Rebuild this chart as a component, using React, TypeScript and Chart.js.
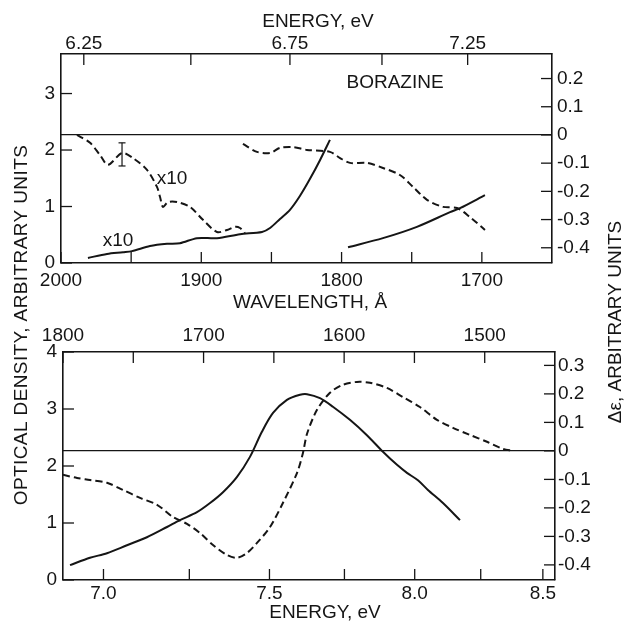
import React, { useEffect, useRef } from 'react';
import { Chart, registerables } from 'chart.js';

Chart.register(...registerables);

const HC = 12398.42; // eV * Å

// ---------- upper panel (x = wavelength, Å) ----------
const topOdLowWl = [1980.8, 1967.2, 1955.8, 1949.4, 1936.6, 1924.4, 1915.2, 1903.1, 1888.8, 1872.4, 1856.7, 1851.0, 1843.9, 1836.8, 1829.6, 1822.5, 1815.4, 1808.3];
const topOdLowVal = [0.09, 0.16, 0.19, 0.21, 0.30, 0.34, 0.35, 0.44, 0.44, 0.51, 0.55, 0.62, 0.78, 0.94, 1.19, 1.49, 1.82, 2.18];

const topOdHighWl = [1795.4, 1770.5, 1746.3, 1722.7, 1715.6, 1697.8];
const topOdHighVal = [0.28, 0.44, 0.64, 0.90, 0.97, 1.20];

const topCdLowWl = [1988.6, 1979.3, 1972.2, 1966.5, 1956.5, 1948.7, 1938.7, 1931.6, 1929.4, 1927.3, 1923.7, 1917.3, 1908.1, 1898.8, 1888.8, 1881.7, 1876.0, 1872.4, 1868.9];
const topCdLowVal = [0.0, -0.028, -0.071, -0.106, -0.064, -0.082, -0.124, -0.184, -0.22, -0.255, -0.238, -0.238, -0.255, -0.301, -0.344, -0.337, -0.326, -0.33, -0.348];

const topCdHighWl = [1870.3, 1860.3, 1851.0, 1843.9, 1834.6, 1824.7, 1808.3, 1801.1, 1794.0, 1781.9, 1770.5, 1758.4, 1749.1, 1739.1, 1727.7, 1717.7, 1708.5, 1697.8];
const topCdHighVal = [-0.032, -0.06, -0.064, -0.046, -0.043, -0.053, -0.06, -0.082, -0.099, -0.099, -0.117, -0.142, -0.184, -0.23, -0.255, -0.259, -0.291, -0.337];

const errBarWl = [1956.5, 1956.5];
const errBarVal = [-0.028, -0.11];

// ---------- lower panel (x = wavelength, Å) ----------
const botOdWl = [1795.0, 1780.8, 1768.7, 1754.5, 1740.3, 1726.0, 1716.8, 1704.7, 1695.4, 1686.2, 1676.2, 1667.0, 1658.5, 1650.6, 1640.7, 1631.4, 1626.4, 1617.2, 1608.0, 1595.9, 1583.8, 1572.4, 1562.4, 1555.3, 1547.5, 1540.4, 1529.7, 1517.6];
const botOdVal = [0.26, 0.39, 0.47, 0.61, 0.75, 0.93, 1.05, 1.19, 1.35, 1.54, 1.81, 2.16, 2.6, 2.93, 3.16, 3.25, 3.26, 3.19, 3.04, 2.81, 2.54, 2.25, 2.02, 1.88, 1.75, 1.58, 1.35, 1.05];

const botCdWl = [1800.0, 1790.0, 1780.8, 1768.7, 1757.3, 1745.2, 1733.1, 1721.8, 1711.8, 1702.6, 1693.3, 1683.4, 1676.2, 1669.1, 1662.0, 1652.7, 1643.5, 1633.5, 1629.3, 1626.4, 1619.3, 1610.1, 1600.9, 1590.9, 1581.7, 1569.6, 1558.2, 1546.1, 1534.0, 1522.6, 1510.5, 1498.4, 1487.0, 1479.9];
const botCdVal = [-0.084, -0.095, -0.102, -0.112, -0.137, -0.165, -0.189, -0.232, -0.256, -0.288, -0.33, -0.365, -0.375, -0.358, -0.323, -0.267, -0.182, -0.077, -0.007, 0.06, 0.144, 0.204, 0.232, 0.242, 0.239, 0.221, 0.189, 0.154, 0.109, 0.081, 0.056, 0.032, 0.007, 0.0];

// ---------- ticks ----------
const topWlTicks = [2000, 1950, 1900, 1850, 1800, 1750, 1700];
const topWlLabels = ['2000', '1900', '1800', '1700'];
const topEnergyTicks = [6.25, 6.5, 6.75, 7.0, 7.25];
const topEnergyLabels = ['6.25', '6.75', '7.25'];
const topOdTicks = [0, 1, 2, 3];
const topOdLabels = ['0', '1', '2', '3'];
const topCdTicks = [0.2, 0.1, 0, -0.1, -0.2, -0.3, -0.4];
const topCdLabels = ['0.2', '0.1', '0', '-0.1', '-0.2', '-0.3', '-0.4'];

const botWlTicks = [1800, 1750, 1700, 1650, 1600, 1550, 1500];
const botWlLabels = ['1800', '1700', '1600', '1500'];
const botEnergyTicks = [7.0, 7.25, 7.5, 7.75, 8.0, 8.25, 8.5];
const botEnergyLabels = ['7.0', '7.5', '8.0', '8.5'];
const botOdTicks = [0, 1, 2, 3, 4];
const botOdLabels = ['0', '1', '2', '3', '4'];
const botCdTicks = [0.3, 0.2, 0.1, 0, -0.1, -0.2, -0.3, -0.4];
const botCdLabels = ['0.3', '0.2', '0.1', '0', '-0.1', '-0.2', '-0.3', '-0.4'];

const FONT = '"Liberation Sans", Arial, sans-serif';
const INK = '#151515';

const pts = (xs: number[], ys: number[]) => xs.map((x, i) => ({ x, y: ys[i] }));

type AxisOpts = {
  size: number;
  pad: number;
  reverse?: boolean;
  energy?: boolean;
  zero?: boolean;
};

function axis(pos: string, min: number, max: number, ticks: number[], labels: string[], o: AxisOpts) {
  const vertical = pos === 'left' || pos === 'right';
  return {
    type: 'linear',
    position: pos,
    min,
    max,
    reverse: !!o.reverse,
    afterBuildTicks: (s: any) => {
      s.ticks = ticks.map((v) => ({ value: o.energy ? HC / v : v }));
    },
    afterFit: (s: any) => {
      if (vertical) s.width = o.size;
      else s.height = o.size;
    },
    grid: {
      display: !!o.zero,
      drawOnChartArea: true,
      drawTicks: false,
      lineWidth: 1.3,
      color: (c: any) => (c.tick && c.tick.value === 0 ? INK : 'rgba(0,0,0,0)'),
    },
    border: { display: true, color: INK, width: 1.6 },
    ticks: {
      autoSkip: false,
      maxRotation: 0,
      minRotation: 0,
      padding: o.pad,
      color: INK,
      font: { family: FONT, size: 19, lineHeight: 1 },
      callback: (value: number) => {
        const v = o.energy ? HC / value : value;
        const hit = labels.find((l) => Math.abs(parseFloat(l) - v) < 1e-6);
        return hit === undefined ? '' : hit;
      },
    },
  };
}

const inwardTicks = {
  id: 'inwardTicks',
  afterDatasetsDraw(chart: any) {
    const { ctx, chartArea: a } = chart;
    const len = 11;
    ctx.save();
    ctx.strokeStyle = INK;
    ctx.lineWidth = 1.3;
    Object.values(chart.scales).forEach((s: any) => {
      s.ticks.forEach((t: any) => {
        const p = s.getPixelForValue(t.value);
        ctx.beginPath();
        if (s.position === 'left') { ctx.moveTo(a.left, p); ctx.lineTo(a.left + len, p); }
        else if (s.position === 'right') { ctx.moveTo(a.right, p); ctx.lineTo(a.right - len, p); }
        else if (s.position === 'top') { ctx.moveTo(p, a.top); ctx.lineTo(p, a.top + len); }
        else { ctx.moveTo(p, a.bottom); ctx.lineTo(p, a.bottom - len); }
        ctx.stroke();
      });
    });
    ctx.restore();
  },
};

type PageText = { text: string; x: number; y: number; rot?: number; spacing?: string };
type DataText = { text: string; wl: number; v: number };

function textPlugin(page: PageText[], notes: DataText[]) {
  return {
    id: 'texts',
    afterDraw(chart: any) {
      const { ctx } = chart;
      ctx.save();
      ctx.fillStyle = INK;
      ctx.font = `19px ${FONT}`;
      ctx.textAlign = 'center';
      ctx.textBaseline = 'middle';
      page.forEach((t) => {
        ctx.save();
        ctx.translate(t.x, t.y);
        if (t.rot) ctx.rotate(t.rot);
        (ctx as any).letterSpacing = t.spacing || '0px';
        ctx.fillText(t.text, 0, 0);
        ctx.restore();
      });
      notes.forEach((n) => {
        const x = chart.scales.x.getPixelForValue(n.wl);
        const y = chart.scales.y.getPixelForValue(n.v);
        ctx.fillText(n.text, x, y);
      });
      ctx.restore();
    },
  };
}

const solid = (data: any[], yAxisID: string) => ({
  data, yAxisID, xAxisID: 'x', borderColor: INK, borderWidth: 2, tension: 0.3, pointRadius: 0, fill: false,
});
const dashed = (data: any[], yAxisID: string) => ({
  ...solid(data, yAxisID), borderDash: [7, 4], borderWidth: 2,
});

const W = 626;
const H = 623;

export default function App() {
  const topRef = useRef<HTMLCanvasElement>(null);
  const botRef = useRef<HTMLCanvasElement>(null);

  useEffect(() => {
    const common = {
      responsive: false,
      animation: false,
      devicePixelRatio: 1,
      plugins: { legend: { display: false }, tooltip: { enabled: false } },
      elements: { point: { radius: 0 } },
    };

    const top = new Chart(topRef.current as HTMLCanvasElement, {
      type: 'line',
      data: {
        datasets: [
          solid(pts(topOdLowWl, topOdLowVal), 'y'),
          solid(pts(topOdHighWl, topOdHighVal), 'y'),
          dashed(pts(topCdLowWl, topCdLowVal), 'y2'),
          dashed(pts(topCdHighWl, topCdHighVal), 'y2'),
          {
            data: pts(errBarWl, errBarVal), yAxisID: 'y2', xAxisID: 'x', borderColor: INK, borderWidth: 1.2,
            tension: 0, pointStyle: 'line', pointRadius: 3.5, pointBorderWidth: 1.2, pointBorderColor: INK,
          },
        ] as any,
      },
      options: {
        ...common,
        layout: { padding: { top: 0, left: 0, right: 0, bottom: 310 } },
        scales: {
          x: axis('bottom', 1650, 2000, topWlTicks, topWlLabels, { size: 50, pad: 8.5, reverse: true }),
          x2: axis('top', 1650, 2000, topEnergyTicks, topEnergyLabels, { size: 54, pad: 0.5, reverse: true, energy: true }),
          y: axis('left', 0, 3.7, topOdTicks, topOdLabels, { size: 61, pad: 6 }),
          y2: axis('right', -0.454, 0.287, topCdTicks, topCdLabels, { size: 74, pad: 5, zero: true }),
        },
      } as any,
      plugins: [
        inwardTicks,
        textPlugin(
          [
            { text: 'ENERGY, eV', x: 318, y: 22 },
            { text: 'WAVELENGTH, Å', x: 310, y: 303 },
            { text: 'OPTICAL DENSITY, ARBITRARY UNITS', x: 22, y: 325, rot: -Math.PI / 2, spacing: '0.4px' },
            { text: 'Δε, ARBITRARY UNITS', x: 616, y: 322, rot: -Math.PI / 2 },
          ],
          [
            { text: 'BORAZINE', wl: 1761.9, v: 3.19 },
            { text: 'x10', wl: 1920.9, v: 1.5 },
            { text: 'x10', wl: 1959.4, v: 0.39 },
          ]
        ),
      ] as any,
    });

    const bot = new Chart(botRef.current as HTMLCanvasElement, {
      type: 'line',
      data: {
        datasets: [
          solid(pts(botOdWl, botOdVal), 'y'),
          dashed(pts(botCdWl, botCdVal), 'y2'),
        ] as any,
      },
      options: {
        ...common,
        layout: { padding: { top: 300, left: 0, right: 0, bottom: 0 } },
        scales: {
          x: axis('bottom', 1450, 1800, botEnergyTicks, botEnergyLabels, { size: 43, pad: 4.5, reverse: true, energy: true }),
          x2: axis('top', 1450, 1800, botWlTicks, botWlLabels, { size: 52, pad: 6.5, reverse: true }),
          y: axis('left', 0, 4, botOdTicks, botOdLabels, { size: 63, pad: 6 }),
          y2: axis('right', -0.453, 0.347, botCdTicks, botCdLabels, { size: 71, pad: 3, zero: true }),
        },
      } as any,
      plugins: [inwardTicks, textPlugin([{ text: 'ENERGY, eV', x: 325, y: 613 }], [])] as any,
    });

    return () => {
      top.destroy();
      bot.destroy();
    };
  }, []);

  const cv: React.CSSProperties = { position: 'absolute', left: 0, top: 0, width: W, height: H, display: 'block' };
  return (
    <div style={{ position: 'fixed', left: 0, top: 0, width: W, height: H, background: '#fff' }}>
      <canvas ref={topRef} width={W} height={H} style={cv} />
      <canvas ref={botRef} width={W} height={H} style={cv} />
    </div>
  );
}
